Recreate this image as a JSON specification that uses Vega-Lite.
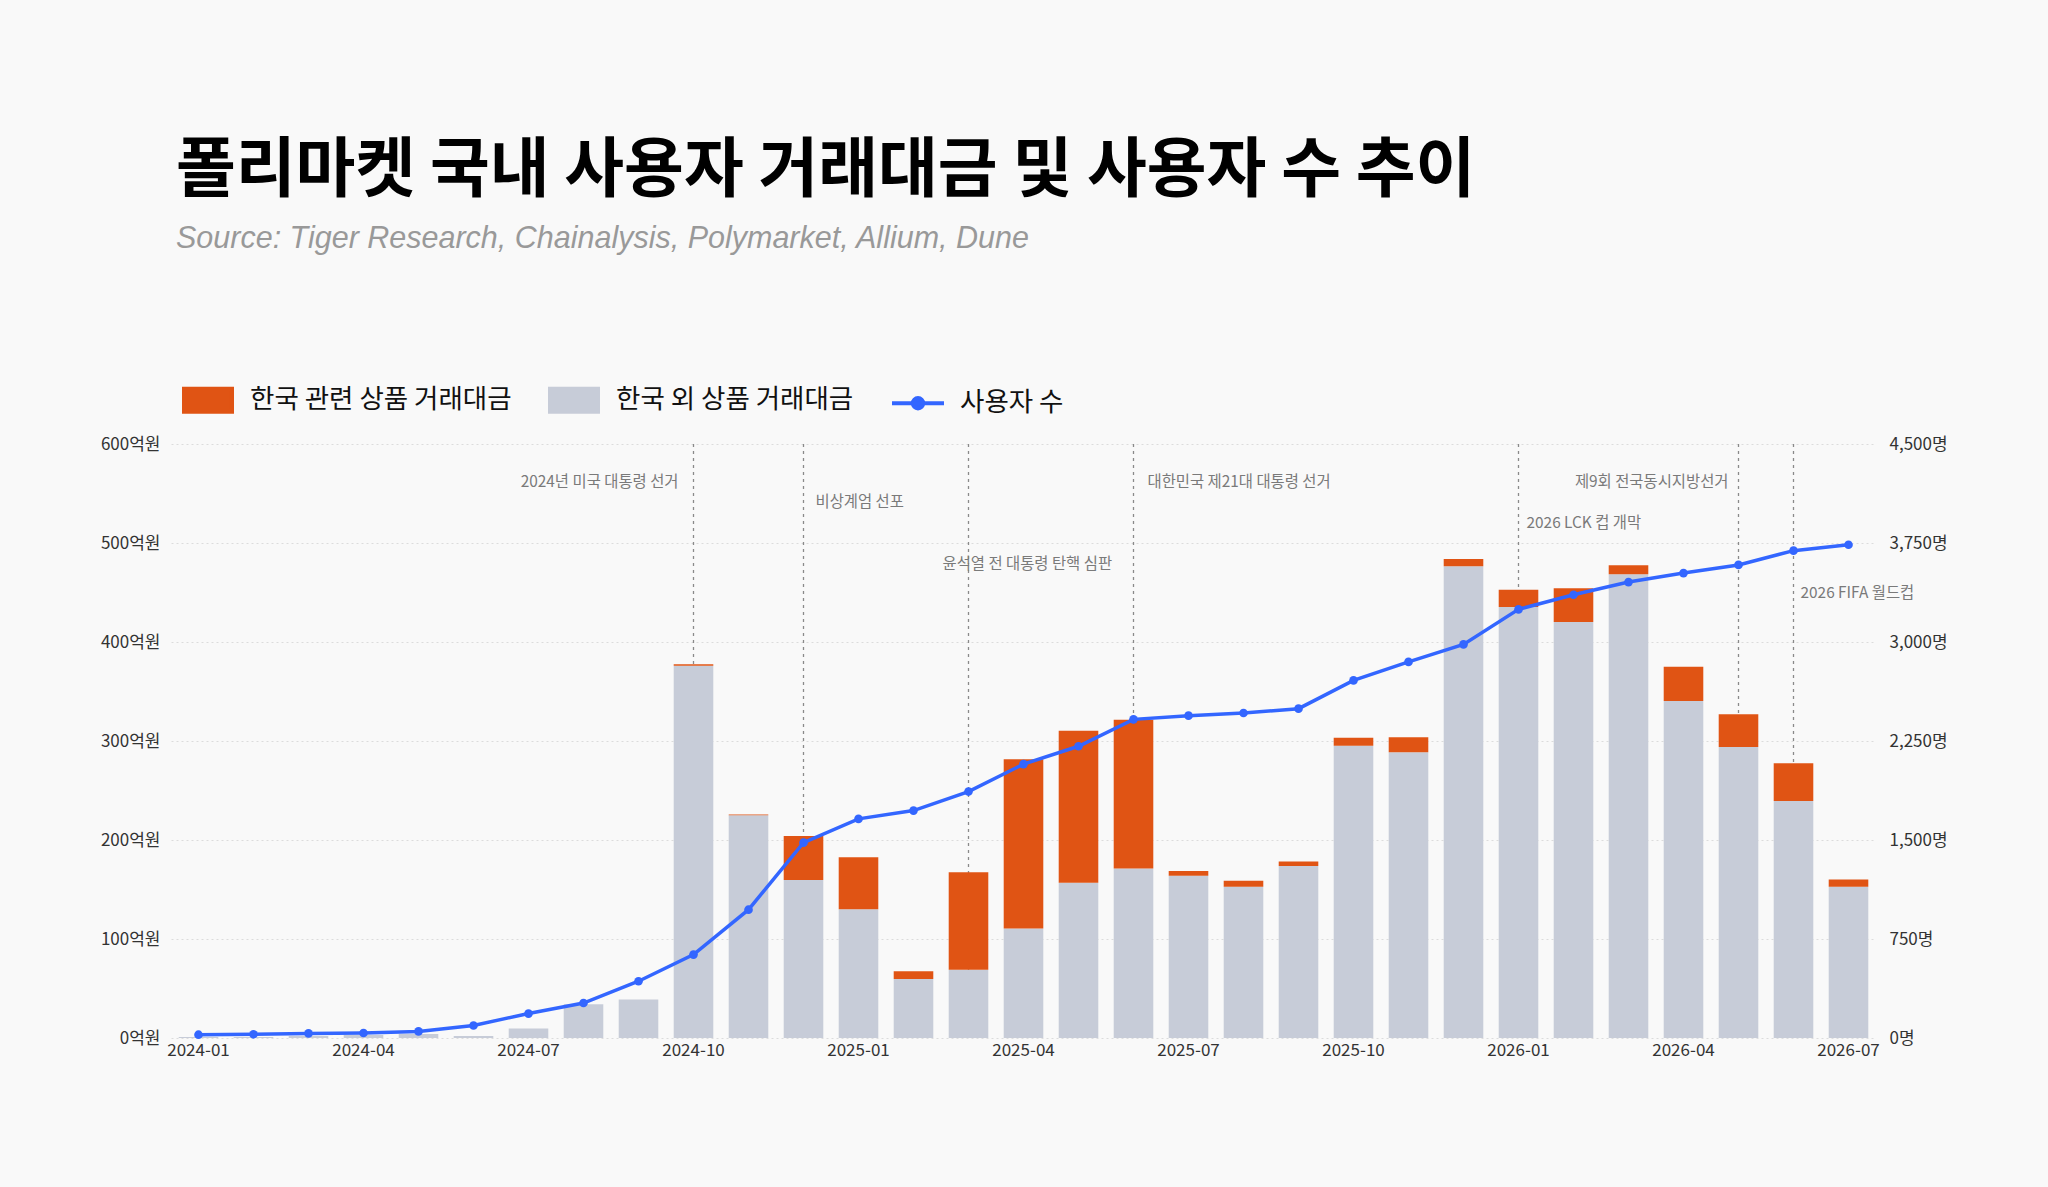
{
  "$schema": "https://vega.github.io/schema/vega-lite/v6.json",
  "width": 1705,
  "height": 594,
  "autosize": {"type": "none"},
  "padding": {"left": 171, "top": 444, "right": 172, "bottom": 149},
  "background": "#f9f9f9",
  "title": {
    "text": "폴리마켓 국내 사용자 거래대금 및 사용자 수 추이",
    "subtitle": "Source: Tiger Research, Chainalysis, Polymarket, Allium, Dune",
    "anchor": "start",
    "frame": "group",
    "offset": 117,
    "dx": 5,
    "font": "Noto Sans CJK KR",
    "fontSize": 65,
    "fontWeight": "bold",
    "color": "#000000",
    "subtitleFont": "Liberation Sans",
    "subtitleFontSize": 30.5,
    "subtitleFontStyle": "italic",
    "subtitleColor": "#999999",
    "subtitlePadding": 19
  },
  "datasets": {
    "volume": [
      {"month": "2024-01", "series": "한국 외 상품 거래대금", "value": 1},
      {"month": "2024-01", "series": "한국 관련 상품 거래대금", "value": 0},
      {"month": "2024-02", "series": "한국 외 상품 거래대금", "value": 1},
      {"month": "2024-02", "series": "한국 관련 상품 거래대금", "value": 0},
      {"month": "2024-03", "series": "한국 외 상품 거래대금", "value": 2},
      {"month": "2024-03", "series": "한국 관련 상품 거래대금", "value": 0},
      {"month": "2024-04", "series": "한국 외 상품 거래대금", "value": 3},
      {"month": "2024-04", "series": "한국 관련 상품 거래대금", "value": 0},
      {"month": "2024-05", "series": "한국 외 상품 거래대금", "value": 4},
      {"month": "2024-05", "series": "한국 관련 상품 거래대금", "value": 0},
      {"month": "2024-06", "series": "한국 외 상품 거래대금", "value": 2},
      {"month": "2024-06", "series": "한국 관련 상품 거래대금", "value": 0},
      {"month": "2024-07", "series": "한국 외 상품 거래대금", "value": 9.5},
      {"month": "2024-07", "series": "한국 관련 상품 거래대금", "value": 0},
      {"month": "2024-08", "series": "한국 외 상품 거래대금", "value": 34},
      {"month": "2024-08", "series": "한국 관련 상품 거래대금", "value": 0},
      {"month": "2024-09", "series": "한국 외 상품 거래대금", "value": 39},
      {"month": "2024-09", "series": "한국 관련 상품 거래대금", "value": 0},
      {"month": "2024-10", "series": "한국 외 상품 거래대금", "value": 376},
      {"month": "2024-10", "series": "한국 관련 상품 거래대금", "value": 1.5},
      {"month": "2024-11", "series": "한국 외 상품 거래대금", "value": 225},
      {"month": "2024-11", "series": "한국 관련 상품 거래대금", "value": 0.8},
      {"month": "2024-12", "series": "한국 외 상품 거래대금", "value": 159.5},
      {"month": "2024-12", "series": "한국 관련 상품 거래대금", "value": 44.5},
      {"month": "2025-01", "series": "한국 외 상품 거래대금", "value": 130},
      {"month": "2025-01", "series": "한국 관련 상품 거래대금", "value": 52.5},
      {"month": "2025-02", "series": "한국 외 상품 거래대금", "value": 59.7},
      {"month": "2025-02", "series": "한국 관련 상품 거래대금", "value": 7.8},
      {"month": "2025-03", "series": "한국 외 상품 거래대금", "value": 69},
      {"month": "2025-03", "series": "한국 관련 상품 거래대금", "value": 98.5},
      {"month": "2025-04", "series": "한국 외 상품 거래대금", "value": 110.5},
      {"month": "2025-04", "series": "한국 관련 상품 거래대금", "value": 171},
      {"month": "2025-05", "series": "한국 외 상품 거래대금", "value": 156.8},
      {"month": "2025-05", "series": "한국 관련 상품 거래대금", "value": 153.6},
      {"month": "2025-06", "series": "한국 외 상품 거래대금", "value": 171.3},
      {"month": "2025-06", "series": "한국 관련 상품 거래대금", "value": 150.2},
      {"month": "2025-07", "series": "한국 외 상품 거래대금", "value": 163.9},
      {"month": "2025-07", "series": "한국 관련 상품 거래대금", "value": 4.7},
      {"month": "2025-08", "series": "한국 외 상품 거래대금", "value": 152.8},
      {"month": "2025-08", "series": "한국 관련 상품 거래대금", "value": 6.1},
      {"month": "2025-09", "series": "한국 외 상품 거래대금", "value": 173.7},
      {"month": "2025-09", "series": "한국 관련 상품 거래대금", "value": 4.7},
      {"month": "2025-10", "series": "한국 외 상품 거래대금", "value": 295.3},
      {"month": "2025-10", "series": "한국 관련 상품 거래대금", "value": 8.1},
      {"month": "2025-11", "series": "한국 외 상품 거래대금", "value": 288.6},
      {"month": "2025-11", "series": "한국 관련 상품 거래대금", "value": 15.1},
      {"month": "2025-12", "series": "한국 외 상품 거래대금", "value": 476.5},
      {"month": "2025-12", "series": "한국 관련 상품 거래대금", "value": 7.4},
      {"month": "2026-01", "series": "한국 외 상품 거래대금", "value": 435.4},
      {"month": "2026-01", "series": "한국 관련 상품 거래대금", "value": 17.5},
      {"month": "2026-02", "series": "한국 외 상품 거래대금", "value": 420.3},
      {"month": "2026-02", "series": "한국 관련 상품 거래대금", "value": 34},
      {"month": "2026-03", "series": "한국 외 상품 거래대금", "value": 468.4},
      {"month": "2026-03", "series": "한국 관련 상품 거래대금", "value": 9.1},
      {"month": "2026-04", "series": "한국 외 상품 거래대금", "value": 340.4},
      {"month": "2026-04", "series": "한국 관련 상품 거래대금", "value": 34.6},
      {"month": "2026-05", "series": "한국 외 상품 거래대금", "value": 294},
      {"month": "2026-05", "series": "한국 관련 상품 거래대금", "value": 32.9},
      {"month": "2026-06", "series": "한국 외 상품 거래대금", "value": 239.5},
      {"month": "2026-06", "series": "한국 관련 상품 거래대금", "value": 38.1},
      {"month": "2026-07", "series": "한국 외 상품 거래대금", "value": 152.8},
      {"month": "2026-07", "series": "한국 관련 상품 거래대금", "value": 7.4}
    ],
    "users": [
      {"month": "2024-01", "users": 25},
      {"month": "2024-02", "users": 28},
      {"month": "2024-03", "users": 35},
      {"month": "2024-04", "users": 38},
      {"month": "2024-05", "users": 50},
      {"month": "2024-06", "users": 95},
      {"month": "2024-07", "users": 185},
      {"month": "2024-08", "users": 265},
      {"month": "2024-09", "users": 430},
      {"month": "2024-10", "users": 632},
      {"month": "2024-11", "users": 972},
      {"month": "2024-12", "users": 1480},
      {"month": "2025-01", "users": 1660},
      {"month": "2025-02", "users": 1723},
      {"month": "2025-03", "users": 1867},
      {"month": "2025-04", "users": 2075},
      {"month": "2025-05", "users": 2210},
      {"month": "2025-06", "users": 2414},
      {"month": "2025-07", "users": 2442},
      {"month": "2025-08", "users": 2462},
      {"month": "2025-09", "users": 2495},
      {"month": "2025-10", "users": 2709},
      {"month": "2025-11", "users": 2849},
      {"month": "2025-12", "users": 2982},
      {"month": "2026-01", "users": 3247},
      {"month": "2026-02", "users": 3358},
      {"month": "2026-03", "users": 3454},
      {"month": "2026-04", "users": 3522},
      {"month": "2026-05", "users": 3584},
      {"month": "2026-06", "users": 3692},
      {"month": "2026-07", "users": 3737}
    ],
    "events": [
      {"month": "2024-10", "label": "2024년 미국 대통령 선거"},
      {"month": "2024-12", "label": "비상계엄 선포"},
      {"month": "2025-03", "label": "윤석열 전 대통령 탄핵 심판"},
      {"month": "2025-06", "label": "대한민국 제21대 대통령 선거"},
      {"month": "2026-01", "label": "2026 LCK 컵 개막"},
      {"month": "2026-05", "label": "제9회 전국동시지방선거"},
      {"month": "2026-06", "label": "2026 FIFA 월드컵"}
    ]
  },
  "layer": [
    {
      "layer": [
        {
          "data": {"name": "events"},
          "mark": {"type": "rule", "color": "#8a8a8a", "strokeWidth": 1.3, "strokeDash": [3, 4]},
          "encoding": {
            "x": {"field": "month", "type": "ordinal"}
          }
        },
        {
          "data": {"name": "events"},
          "transform": [{"filter": "datum.month === '2024-10'"}],
          "mark": {"type": "text", "align": "right", "baseline": "middle", "dx": -15, "font": "Noto Sans CJK KR", "fontSize": 15.4, "color": "#7a7a7a"},
          "encoding": {"x": {"field": "month", "type": "ordinal"}, "y": {"datum": 562}, "text": {"field": "label"}}
        },
        {
          "data": {"name": "events"},
          "transform": [{"filter": "datum.month === '2024-12'"}],
          "mark": {"type": "text", "align": "left", "baseline": "middle", "dx": 12, "font": "Noto Sans CJK KR", "fontSize": 15.4, "color": "#7a7a7a"},
          "encoding": {"x": {"field": "month", "type": "ordinal"}, "y": {"datum": 541}, "text": {"field": "label"}}
        },
        {
          "data": {"name": "events"},
          "transform": [{"filter": "datum.month === '2025-03'"}],
          "mark": {"type": "text", "align": "left", "baseline": "middle", "dx": -26, "font": "Noto Sans CJK KR", "fontSize": 15.4, "color": "#7a7a7a"},
          "encoding": {"x": {"field": "month", "type": "ordinal"}, "y": {"datum": 479}, "text": {"field": "label"}}
        },
        {
          "data": {"name": "events"},
          "transform": [{"filter": "datum.month === '2025-06'"}],
          "mark": {"type": "text", "align": "left", "baseline": "middle", "dx": 14, "font": "Noto Sans CJK KR", "fontSize": 15.4, "color": "#7a7a7a"},
          "encoding": {"x": {"field": "month", "type": "ordinal"}, "y": {"datum": 562}, "text": {"field": "label"}}
        },
        {
          "data": {"name": "events"},
          "transform": [{"filter": "datum.month === '2026-01'"}],
          "mark": {"type": "text", "align": "left", "baseline": "middle", "dx": 8, "font": "Noto Sans CJK KR", "fontSize": 15.4, "color": "#7a7a7a"},
          "encoding": {"x": {"field": "month", "type": "ordinal"}, "y": {"datum": 520}, "text": {"field": "label"}}
        },
        {
          "data": {"name": "events"},
          "transform": [{"filter": "datum.month === '2026-05'"}],
          "mark": {"type": "text", "align": "right", "baseline": "middle", "dx": -10, "font": "Noto Sans CJK KR", "fontSize": 15.4, "color": "#7a7a7a"},
          "encoding": {"x": {"field": "month", "type": "ordinal"}, "y": {"datum": 562}, "text": {"field": "label"}}
        },
        {
          "data": {"name": "events"},
          "transform": [{"filter": "datum.month === '2026-06'"}],
          "mark": {"type": "text", "align": "left", "baseline": "middle", "dx": 7, "font": "Noto Sans CJK KR", "fontSize": 15.4, "color": "#7a7a7a"},
          "encoding": {"x": {"field": "month", "type": "ordinal"}, "y": {"datum": 449}, "text": {"field": "label"}}
        },
        {
          "data": {"name": "volume"},
          "mark": {"type": "bar"},
          "encoding": {
            "x": {
              "field": "month",
              "type": "ordinal",
              "title": null,
              "scale": {"paddingInner": 0.28, "paddingOuter": 0.14},
              "axis": {
                "values": ["2024-01", "2024-04", "2024-07", "2024-10", "2025-01", "2025-04", "2025-07", "2025-10", "2026-01", "2026-04", "2026-07"],
                "bandPosition": 0.5,
                "labelAngle": 0,
                "labelAlign": "center",
                "domain": false,
                "ticks": false,
                "grid": false,
                "labelPadding": 12,
                "labelFont": "Noto Sans CJK KR",
                "labelFontSize": 17,
                "labelColor": "#333333",
                "title": null
              }
            },
            "y": {
              "field": "value",
              "type": "quantitative",
              "stack": "zero",
              "scale": {"domain": [0, 600], "nice": false},
              "axis": {
                "orient": "left",
                "values": [0, 100, 200, 300, 400, 500, 600],
                "labelExpr": "datum.value + '억원'",
                "title": null,
                "grid": true,
                "gridDash": [2, 3],
                "gridColor": "#dcdcdc",
                "domain": false,
                "ticks": false,
                "labelPadding": 11,
                "labelFont": "Noto Sans CJK KR",
                "labelFontSize": 17,
                "labelColor": "#333333"
              }
            },
            "color": {
              "field": "series",
              "type": "nominal",
              "scale": {
                "domain": ["한국 관련 상품 거래대금", "한국 외 상품 거래대금", "사용자 수"],
                "range": ["#e05414", "#c7ccd8", "#3366ff"]
              },
              "legend": {
                "orient": "none",
                "legendX": 9,
                "legendY": -72,
                "direction": "horizontal",
                "title": null,
                "labelFont": "Noto Sans CJK KR",
                "labelFontSize": 26.5,
                "labelColor": "#111111",
                "labelLimit": 500,
                "labelOffset": 14,
                "columnPadding": 30,
                "symbolSize": 2704,
                "symbolStrokeWidth": 4,
                "symbolType": "M-0.923,-0.44H0.923V0.44H-0.923Z",
                "encoding": {
                  "symbols": {
                    "size": {"value": 2704},
                    "strokeWidth": {"value": 4},
                    "shape": {"value": {"expr": "datum.value === '사용자 수' ? 'M-1,0H1M-0.2,0A0.2,0.2,0,1,0,0.2,0A0.2,0.2,0,1,0,-0.2,0Z' : 'M-0.923,-0.44H0.923V0.44H-0.923Z'"}},
                    "fill": {"value": {"expr": "scale('color', datum.value)"}},
                    "stroke": {"value": {"expr": "scale('color', datum.value)"}},
                    "opacity": {"value": 1}
                  }
                }
              }
            },
            "order": {"field": "series", "sort": "descending"}
          }
        }
      ]
    },
    {
      "data": {"name": "users"},
      "layer": [
        {
          "mark": {"type": "line", "strokeWidth": 3.5},
          "encoding": {
            "x": {"field": "month", "type": "ordinal"},
            "y": {
              "field": "users",
              "type": "quantitative",
              "scale": {"domain": [0, 4500], "nice": false},
              "axis": {
                "orient": "right",
                "values": [0, 750, 1500, 2250, 3000, 3750, 4500],
                "labelExpr": "format(datum.value, ',') + '명'",
                "title": null,
                "grid": false,
                "domain": false,
                "ticks": false,
                "labelPadding": 13,
                "labelFont": "Noto Sans CJK KR",
                "labelFontSize": 17,
                "labelColor": "#333333"
              }
            },
            "color": {"datum": "사용자 수", "legend": null}
          }
        },
        {
          "mark": {"type": "point", "filled": true, "size": 75, "opacity": 1},
          "encoding": {
            "x": {"field": "month", "type": "ordinal"},
            "y": {"field": "users", "type": "quantitative"},
            "color": {"datum": "사용자 수", "legend": null}
          }
        }
      ]
    }
  ],
  "resolve": {"scale": {"y": "independent"}},
  "config": {
    "view": {"stroke": null},
    "font": "Noto Sans CJK KR"
  }
}
